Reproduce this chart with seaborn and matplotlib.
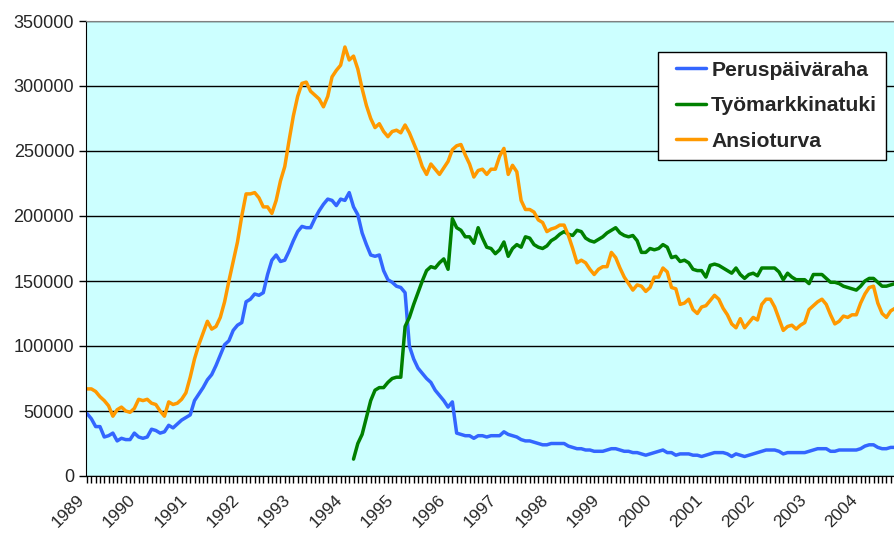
import numpy as np
import pandas as pd
import matplotlib
matplotlib.use('Agg')
import matplotlib.pyplot as plt
import seaborn as sns
from matplotlib.legend_handler import HandlerLine2D
from matplotlib.lines import Line2D

# kuukausittaiset luvut (tuhatta), tammikuu 1989 -> syyskuu 2004
years = [str(y) for y in range(1989, 2005)]

peruspaivaraha = [
    48, 44, 38, 38, 30, 31, 33, 27, 29, 28,
    28, 33, 30, 29, 30, 36, 35, 33, 34, 39,
    37, 40, 43, 45, 47, 58, 63, 68, 74, 78,
    85, 93, 101, 104, 112, 116, 118, 134, 136, 140,
    139, 141, 155, 166, 170, 165, 166, 173, 181, 188,
    192, 191, 191, 198, 204, 209, 213, 212, 208, 213,
    212, 218, 207, 201, 187, 178, 170, 169, 170, 158,
    151, 149, 146, 145, 141, 100, 90, 83, 79, 75,
    72, 66, 62, 58, 53, 57, 33, 32, 31, 31,
    29, 31, 31, 30, 31, 31, 31, 34, 32, 31,
    30, 28, 27, 27, 26, 25, 24, 24, 25, 25,
    25, 25, 23, 22, 21, 21, 20, 20, 19, 19,
    19, 20, 21, 21, 20, 19, 19, 18, 18, 17,
    16, 17, 18, 19, 20, 18, 18, 16, 17, 17,
    17, 16, 16, 15, 16, 17, 18, 18, 18, 17,
    15, 17, 16, 15, 16, 17, 18, 19, 20, 20,
    20, 19, 17, 18, 18, 18, 18, 18, 19, 20,
    21, 21, 21, 19, 19, 20, 20, 20, 20, 20,
    21, 23, 24, 24, 22, 21, 21, 22, 22,
]

# työmarkkinatuki alkaa kuukaudesta 62 (1994)
tmt_start = 62
tyomarkkinatuki = [
    13, 25, 32, 45, 58, 66, 68, 68,
    72, 75, 76, 76, 115, 122, 132, 141, 150, 158,
    161, 160, 164, 167, 159, 198, 191, 189, 184, 184,
    179, 191, 183, 176, 175, 171, 174, 180, 169, 175,
    178, 176, 184, 183, 178, 176, 175, 177, 181, 183,
    186, 188, 186, 185, 189, 188, 183, 181, 180, 182,
    184, 187, 189, 191, 187, 185, 184, 185, 181, 172,
    172, 175, 174, 175, 178, 176, 168, 169, 165, 166,
    164, 159, 158, 158, 153, 162, 163, 162, 160, 158,
    156, 160, 155, 152, 155, 156, 154, 160, 160, 160,
    160, 157, 151, 156, 153, 151, 151, 151, 148, 155,
    155, 155, 152, 149, 149, 148, 146, 145, 144, 143,
    146, 150, 152, 152, 149, 146, 146, 147, 148,
]

ansioturva = [
    67, 67, 65, 61, 58, 54, 46, 51, 53, 50,
    49, 52, 59, 58, 59, 56, 55, 50, 46, 57,
    55, 56, 59, 64, 76, 90, 101, 110, 119, 113,
    115, 122, 134, 150, 165, 180, 200, 217, 217, 218,
    214, 207, 207, 202, 212, 227, 238, 258, 277, 292,
    302, 303, 296, 293, 290, 284, 292, 307, 312, 316,
    330, 320, 323, 313, 298, 285, 275, 268, 271, 265,
    261, 265, 266, 264, 270, 264, 256, 248, 238, 232,
    240, 236, 232, 237, 242, 251, 254, 255, 247, 240,
    230, 235, 236, 232, 236, 236, 246, 252, 232, 239,
    234, 212, 205, 205, 203, 197, 195, 188, 190, 191,
    193, 193, 185, 175, 164, 166, 164, 159, 155, 159,
    161, 161, 172, 168, 160, 153, 148, 143, 147, 146,
    142, 145, 153, 153, 160, 157, 145, 144, 132, 133,
    136, 128, 125, 130, 131, 135, 139, 136, 129, 124,
    117, 114, 121, 114, 118, 122, 120, 132, 136, 136,
    130, 121, 112, 115, 116, 113, 116, 118, 128, 131,
    134, 136, 132, 124, 117, 119, 123, 122, 124, 124,
    133, 140, 145, 146, 133, 125, 122, 127, 129,
]

names = ['Peruspäiväraha', 'Työmarkkinatuki', 'Ansioturva']
colors = ['#3366FF', '#008000', '#FF9900']

frames = []
for name, vals, start in zip(names, [peruspaivaraha, tyomarkkinatuki, ansioturva], [0, tmt_start, 0]):
    frames.append(pd.DataFrame({'kk': np.arange(start, start + len(vals)),
                                'arvo': np.array(vals) * 1000,
                                'sarja': name}))
df = pd.concat(frames, ignore_index=True)

sns.set_style('white')
plt.rcParams['font.family'] = ['Liberation Sans', 'DejaVu Sans']

fig = plt.figure(figsize=(8.95, 5.33), dpi=100)
ax = fig.add_axes([86 / 895, 57 / 533, 809 / 895, 455 / 533])
ax.set_facecolor('#CCFFFF')

for name, color in zip(names, colors):
    sub = df[df['sarja'] == name]
    sns.lineplot(data=sub, x='kk', y='arvo', color=color, linewidth=2.5,
                 label=name, estimator=None, ax=ax)

ax.set_xlim(-0.25, 188)
ax.set_ylim(0, 350000)
ax.set_yticks(range(0, 350001, 50000))
ax.set_yticklabels([str(v) for v in range(0, 350001, 50000)], fontsize=13)
ax.set_xticks(range(0, 181, 12))
ax.set_xticklabels(years, rotation=45, ha='right', fontsize=12.5)
ax.set_xticks(range(0, 189), minor=True)
ax.tick_params(axis='x', which='both', direction='out', length=5, width=1,
               color='black', bottom=True, pad=6.5)
ax.tick_params(axis='y', direction='out', length=5, width=1, color='black', left=True)
ax.set_xlabel('')
ax.set_ylabel('')

ax.set_axisbelow(True)
ax.yaxis.grid(True, color='black', linewidth=1)
ax.xaxis.grid(False)
ax.spines['right'].set_visible(False)
ax.spines['top'].set_color('#808080')
ax.spines['left'].set_color('black')
ax.spines['bottom'].set_color('black')

# selite: viiva hieman sisennettynä kuten alkuperäisessä
ax.legend(loc='upper left', bbox_to_anchor=(658 / 895, 1 - 52 / 533),
          bbox_transform=fig.transFigure, frameon=True, fancybox=False,
          edgecolor='black', framealpha=1, facecolor='white',
          prop={'weight': 'bold', 'size': 15.2}, handlelength=1.85,
          handletextpad=0.25, labelspacing=0.78, borderpad=0.42, borderaxespad=0,
          handler_map={Line2D: HandlerLine2D(xpad=0.42)})

fig.savefig('out.png', dpi=100)
